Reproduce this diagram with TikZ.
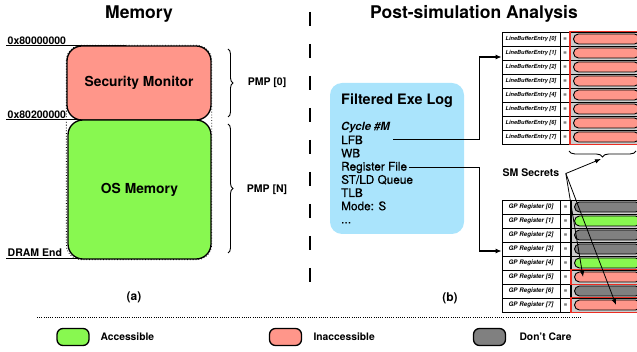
\documentclass[tikz,border=0pt]{standalone}
\usepackage{fontspec}
\setmainfont{TeX Gyre Heros}
\newfontfamily\logfont{TeX Gyre Heros}[FakeBold=0.6]
\usetikzlibrary{arrows.meta, positioning, decorations.pathreplacing, calc}

\definecolor{smred}{RGB}{255,150,138}
\definecolor{accgreen}{RGB}{136,248,80}
\definecolor{logblue}{RGB}{170,228,252}
\definecolor{dcgray}{RGB}{128,128,128}
\definecolor{cellgray}{RGB}{205,205,205}
\definecolor{framered}{RGB}{235,45,35}

\begin{document}
\begin{tikzpicture}[
    x = 1pt, y = -1pt,
    heading/.style = {anchor=base, font=\fontsize{17.5}{20}\selectfont\bfseries},
    region/.style = {
        rectangle,
        rounded corners=15pt,
        draw=black,
        line width=1.3pt,
        text centered,
        font=\fontsize{13.8}{16}\selectfont\bfseries
    },
    addr/.style = {anchor=south west, inner sep=1.5pt, font=\fontsize{10.5}{12}\selectfont\bfseries},
    addrline/.style = {line width=1pt},
    pmpbrace/.style = {decorate, decoration={brace, amplitude=5pt}, line width=0.9pt},
    pmplabel/.style = {font=\fontsize{10.5}{12}\selectfont\bfseries},
    logbox/.style = {rectangle, rounded corners=12pt, fill=logblue, minimum width=134pt, minimum height=151pt},
    logitem/.style = {anchor=base west, inner sep=0pt, font=\fontsize{11.8}{14}\selectfont\logfont},
    namecell/.style = {rectangle, draw=black, line width=0.7pt, fill=white, minimum width=58pt, minimum height=14pt, inner sep=0pt},
    eqcell/.style = {rectangle, draw=black, line width=0.7pt, fill=white, minimum width=9pt, minimum height=14pt, inner sep=0pt, font=\fontsize{6}{7}\selectfont\bfseries},
    valcell/.style = {rectangle, draw=black, line width=0.7pt, fill=cellgray, minimum width=72pt, minimum height=14pt, inner sep=0pt},
    pill/.style = {rectangle, rounded corners=5pt, draw=black, line width=0.9pt, minimum width=66pt, minimum height=10pt, inner sep=0pt, anchor=west},
    frame/.style = {draw=framered, line width=1.5pt},
    legendbox/.style = {rectangle, rounded corners=6pt, draw=black, line width=1.3pt, minimum width=32pt, minimum height=17pt},
    legendtext/.style = {anchor=west, font=\fontsize{10.3}{12}\selectfont\bfseries},
    sublabel/.style = {font=\fontsize{12}{14}\selectfont\bfseries},
    arrow/.style = {line width=1.2pt, -{Latex[length=6pt, width=5pt]}},
    secret/.style = {line width=0.8pt, -{Latex[length=6pt, width=4.5pt]}}
]
    \useasboundingbox (0,0) rectangle (637,352);

    % Titles
    \node[heading] (memtitle) at (139,18.5) {Memory};
    \node[heading] (anatitle) at (474,18.5) {Post-simulation Analysis};

    % separator between (a) and (b)
    \draw[line width=2.5pt, dash pattern=on 14pt off 18pt] (310,12) -- (310,283);

    % === (a) MEMORY MAP ===
    \node[addr] (addr0) at (6,46) {0x80000000};
    \draw[addrline] (addr0.south west) -- ++(120,0);
    \node[addr] (addr1) at (6,120) {0x80200000};
    \draw[addrline] (addr1.south west) -- ++(120,0);
    \node[addr] (dramend) at (6,258.5) {DRAM End};
    \draw[addrline] (dramend.south west) -- ++(120,0);

    \node[region, fill=smred, minimum width=144pt, minimum height=74pt] (sm) at (139,83) {Security Monitor};
    \node[region, fill=accgreen, minimum width=143pt, minimum height=139pt] (os) at (139.5,189.5) {OS Memory};
    \draw[dotted, line width=0.8pt, rounded corners=15pt] (sm.north west) rectangle (os.south east);

    \draw[pmpbrace] (228,49) -- (228,117);
    \node[pmplabel] (pmp0) at (267,83) {PMP [0]};
    \draw[pmpbrace] (228,124) -- (228,253);
    \node[pmplabel] (pmpn) at (267,190) {PMP [N]};

    \node[sublabel] (suba) at (134,297) {(a)};

    % === (b) FILTERED LOG ===
    \node[logbox] (log) at (397,158.5) {};
    \node[logitem, font=\fontsize{14.4}{16}\selectfont\bfseries] (logtitle) at (341,105) {Filtered Exe Log};
    \node[logitem, font=\fontsize{11.3}{14}\selectfont\bfseries\itshape] (cycle) at (341,131) {Cycle \#M};
    \node[logitem] (lfb) at (341,144.2) {LFB};
    \node[logitem] (wb) at (341,157.4) {WB};
    \node[logitem] (regfile) at (341,170.6) {Register File};
    \node[logitem] (stld) at (341,183.8) {ST/LD Queue};
    \node[logitem] (tlb) at (341,197) {TLB};
    \node[logitem] (mode) at (341,210.2) {Mode: S};
    \node[logitem] (more) at (341,223.4) {...};

    % === LINE BUFFER ENTRIES ===
    \foreach \i in {0,...,7} {
        \node[namecell, font=\fontsize{5.6}{6}\selectfont\bfseries\itshape] (lbe\i) at (531,39+14*\i) {LineBufferEntry [\i]};
        \node[eqcell, right=0pt of lbe\i] (lbeq\i) {=};
        \node[valcell, right=0pt of lbeq\i] (lbev\i) {};
        \node[pill, fill=smred] (lbep\i) at ([xshift=3pt]lbev\i.west) {};
    }
    \draw[frame] (lbev0.north west) rectangle (lbev7.south east);
    \draw[pmpbrace, decoration={amplitude=6pt}] (636,151) -- (569,151);
    \coordinate (bracetip) at (601,159);

    % === GP REGISTERS ===
    \foreach \i/\c in {0/dcgray, 1/accgreen, 2/dcgray, 3/dcgray, 4/accgreen, 5/smred, 6/dcgray, 7/smred} {
        \node[namecell, font=\fontsize{6.2}{7}\selectfont\bfseries\itshape] (gp\i) at (531,207+14*\i) {GP Register [\i]};
        \node[eqcell, minimum width=10pt, right=0pt of gp\i] (gpeq\i) {=};
        \node[valcell, right=0pt of gpeq\i] (gpv\i) {};
        \node[pill, fill=\c] (gpp\i) at ([xshift=3pt]gpv\i.west) {};
    }
    \draw[frame] (gpv5.north west) rectangle (gpv5.south east);
    \draw[frame] (gpv7.north west) rectangle (gpv7.south east);

    \node[sublabel] (subb) at (450,298) {(b)};

    % === DATA FLOW ===
    \draw[arrow] ([xshift=30pt]lfb.east) -| ([xshift=-22pt, yshift=-4pt]lbe1.west) -- ([yshift=-4pt]lbe1.west);
    \draw[arrow] ([xshift=2pt]regfile.east) -| ([xshift=-22pt, yshift=-2pt]gp3.west) -- ([yshift=-2pt]gp3.west);

    % SM secrets
    \node[pmplabel] (secrets) at (531,172.5) {SM Secrets};
    \coordinate (fork) at ([xshift=3pt, yshift=-1pt]secrets.east);
    \draw[secret] (fork) -- (bracetip);
    \draw[secret] (fork) -- ([xshift=9pt]gpp5.west);
    \draw[secret] (fork) -- ([xshift=42pt]gpp7.west);

    % === LEGEND ===
    \draw[line width=1pt, dash pattern=on 1pt off 1.2pt] (37,318) -- (582,318);
    \node[legendbox, fill=accgreen] (keyacc) at (73,337) {};
    \node[legendtext] (txtacc) at (97,337) {Accessible};
    \node[legendbox, fill=smred] (keyinacc) at (285.5,337) {};
    \node[legendtext] (txtinacc) at (310,337) {Inaccessible};
    \node[legendbox, fill=dcgray] (keydc) at (489.5,337) {};
    \node[legendtext] (txtdc) at (516,337) {Don't Care};

\end{tikzpicture}
\end{document}
